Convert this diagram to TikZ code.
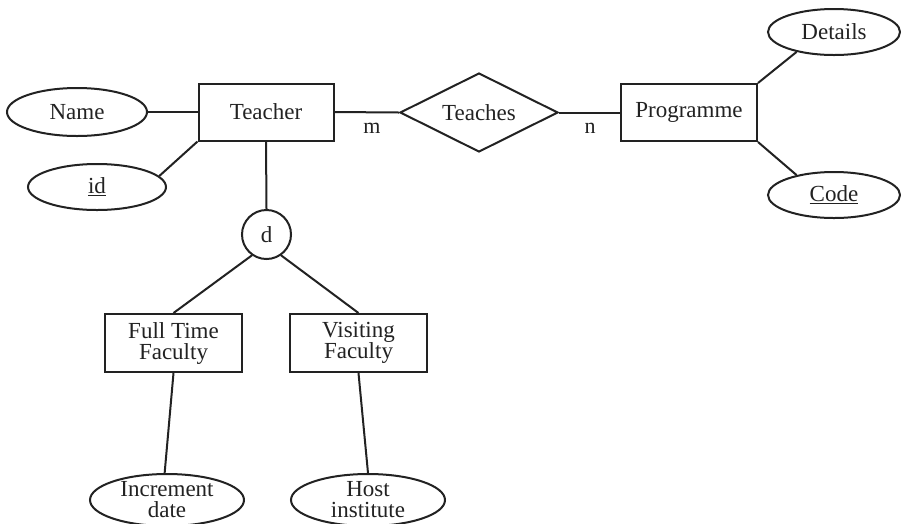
\documentclass[tikz,border=0pt]{standalone}
\usepackage{fontspec}
\setmainfont{Liberation Serif}
\usetikzlibrary{shapes.geometric}
\definecolor{ink}{HTML}{222222}
\begin{document}
\begin{tikzpicture}[x=1pt,y=-1pt,
  every node/.style={font=\fontsize{23}{21}\selectfont, text=ink, inner sep=0pt},
  ent/.style={draw=ink, line width=2pt, rectangle, minimum width=135pt, minimum height=57pt, align=center},
  attr/.style={draw=ink, line width=2pt, ellipse, minimum width=138pt, minimum height=46pt, align=center},
  rel/.style={draw=ink, line width=2pt, diamond, shape aspect=2, minimum width=158pt, minimum height=79pt},
  disj/.style={draw=ink, line width=2pt, circle, minimum size=49pt},
  conn/.style={draw=ink, line width=2pt},
  card/.style={font=\fontsize{22}{22}\selectfont}]
\useasboundingbox (0,0) rectangle (901,523);
\fill[white] (0,0) rectangle (901,523);

\node[ent] (teacher) at (266,112) {Teacher};
\node[ent, minimum width=136pt] (prog) at (689,112.5) {Programme};
\node[rel] (teaches) at (479,112.5) {Teaches};
\node[attr, minimum width=140pt, minimum height=48pt] (name) at (77,112) {Name};
\node[attr] (id) at (97,187) {\underline{id}};
\node[attr, minimum width=132pt] (details) at (834,32) {Details};
\node[attr, minimum width=132pt] (code) at (834,195) {\underline{Code}};
\node[disj] (d) at (266.5,234.5) {d};
\node[ent, minimum width=137pt, minimum height=58pt] (ftf) at (173.5,343) {Full Time\\Faculty};
\node[ent, minimum width=137pt, minimum height=58pt] (vf) at (358.5,343) {Visiting\\Faculty};
\node[attr, minimum width=154pt, minimum height=52pt] (inc) at (167,500) {Increment\\date};
\node[attr, minimum width=154pt, minimum height=52pt] (host) at (368,500) {Host\\institute};

\node[card] (m) at (372,128) {m};
\node[card] (n) at (590,128) {n};

\draw[conn] (name.east) -- (teacher.west);
\draw[conn] (id.10) -- (teacher.south west);
\draw[conn] (teacher.east) -- (teaches.west);
\draw[conn] (teaches.east) -- (prog.west);
\draw[conn] (prog.north east) -- (details.208);
\draw[conn] (prog.south east) -- (code.152);
\draw[conn] (teacher.south) -- (d.north);
\draw[conn] (d.235) -- (ftf.north);
\draw[conn] (d.305) -- (vf.north);
\draw[conn] (ftf.south) -- (inc.95);
\draw[conn] (vf.south) -- (host.north);
\end{tikzpicture}
\end{document}
